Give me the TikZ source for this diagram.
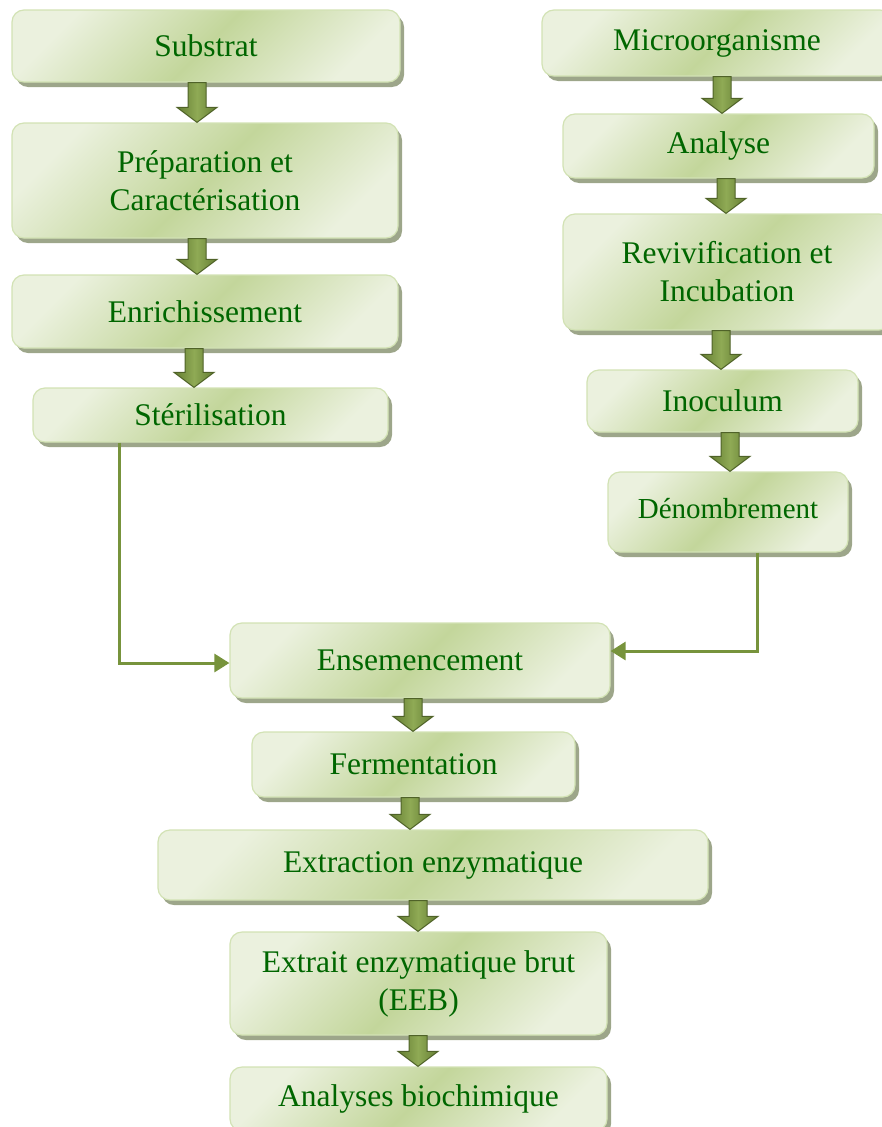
\documentclass[tikz,border=0pt]{standalone}
\usepackage{fontspec}
\setmainfont{Liberation Serif}
\usetikzlibrary{shadows,calc,arrows.meta}
\definecolor{gL}{HTML}{EBF1DE}
\definecolor{gD}{HTML}{C3D69B}
\definecolor{gB}{HTML}{D2E2B4}
\definecolor{gS}{HTML}{9DA68A}
\definecolor{txt}{HTML}{006600}
\definecolor{aD}{HTML}{4F6228}
\definecolor{aM}{HTML}{8FAA55}
\definecolor{aE}{HTML}{647D32}
\definecolor{ln}{HTML}{77933C}
\pgfdeclarehorizontalshading{boxshade}{100bp}{color(0bp)=(gL); color(25bp)=(gL); color(50bp)=(gD); color(75bp)=(gL); color(100bp)=(gL)}
\newcommand\blockarrow[3]{%
  \coordinate (bx) at (#1,0);
  \coordinate (bt) at (#2.south -| bx);
  \coordinate (bb) at (#3.north -| bx);
  \draw[barrow] (bt) ++(-9,0) -- ++(18,0) -- ($(bb)+(9,-15)$) -- ($(bb)+(20,-15)$) -- (bb) -- ($(bb)+(-20,-15)$) -- ($(bb)+(-9,-15)$) -- cycle;}
\begin{document}
\begin{tikzpicture}[x=1pt,y=-1pt,
  box/.style={rounded corners=12pt, draw=gB, line width=1.2pt, shading=boxshade, shading angle=-45,
    text=txt, font=\fontsize{31.5}{38}\selectfont, align=center, inner sep=0pt,
    drop shadow={shadow xshift=4pt, shadow yshift=-5pt, fill=gS, opacity=1}},
  barrow/.style={draw=aD, line width=1pt, left color=aE, right color=aE, middle color=aM},
  conn/.style={draw=ln, line width=3pt, -{Triangle[length=15pt,width=18pt]}}]
\useasboundingbox (0,0) rectangle (882,1127);
% left column
\node[box, minimum width=388pt, minimum height=72pt] (sub) at (206,46) {Substrat};
\node[box, minimum width=386pt, minimum height=115pt] (prep) at (205,180.5) {Préparation et\\Caractérisation};
\node[box, minimum width=386pt, minimum height=73pt] (enr) at (205,311.5) {Enrichissement};
\node[box, minimum width=355pt, minimum height=54pt] (ster) at (210.5,415) {Stérilisation};
% right column
\node[box, minimum width=350pt, minimum height=66pt] (micro) at (717,43) {Microorganisme};
\node[box, minimum width=311pt, minimum height=64pt] (ana) at (718.5,146) {Analyse};
\node[box, minimum width=328pt, minimum height=116pt] (rev) at (727,272) {Revivification et\\Incubation};
\node[box, minimum width=271pt, minimum height=62pt] (inoc) at (722.5,401) {Inoculum};
\node[box, minimum width=240pt, minimum height=80pt, font=\fontsize{29}{34}\selectfont] (den) at (728,512) {\raisebox{7pt}{Dénombrement}};
% bottom column
\node[box, minimum width=380pt, minimum height=75pt] (ens) at (420,660.5) {Ensemencement};
\node[box, minimum width=323pt, minimum height=65pt] (ferm) at (413.5,764.5) {Fermentation};
\node[box, minimum width=550pt, minimum height=70pt] (extr) at (433,865) {Extraction enzymatique};
\node[box, minimum width=377pt, minimum height=103pt] (eeb) at (418.5,983.5) {Extrait enzymatique brut\\(EEB)};
\node[box, minimum width=377pt, minimum height=64pt] (anal) at (418.5,1099) {Analyses biochimique};
% block arrows
\blockarrow{197}{sub}{prep}
\blockarrow{197}{prep}{enr}
\blockarrow{194}{enr}{ster}
\blockarrow{722}{micro}{ana}
\blockarrow{726}{ana}{rev}
\blockarrow{721}{rev}{inoc}
\blockarrow{730}{inoc}{den}
\blockarrow{413}{ens}{ferm}
\blockarrow{410}{ferm}{extr}
\blockarrow{418}{extr}{eeb}
\blockarrow{418}{eeb}{anal}
% connectors
\coordinate (c1) at (119,663);
\coordinate (c2) at (757,651);
\draw[conn] (ster.south -| c1) |- (c1 -| ens.west);
\draw[conn] (den.south -| c2) |- (c2 -| ens.east);
\end{tikzpicture}
\end{document}
